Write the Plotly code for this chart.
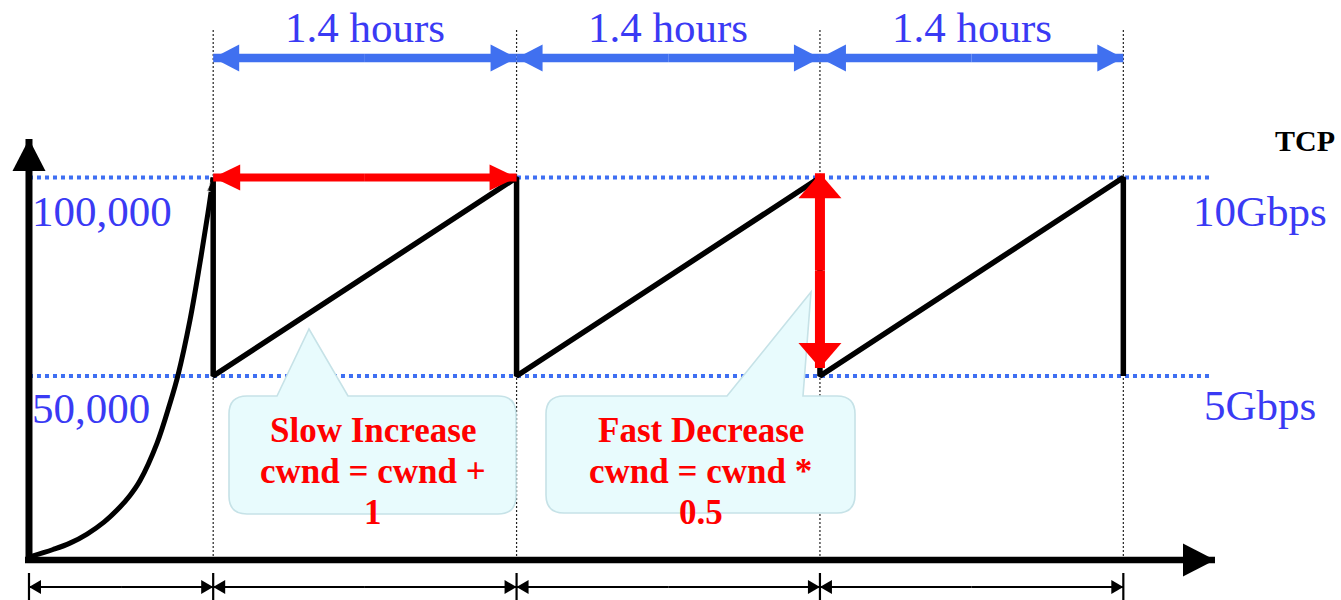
import plotly.graph_objects as go

# ---------------- data ----------------
cycle_bounds_t = [0.85, 2.25, 3.65, 5.05]          # hours: end of slow start, then every 1.4 h
cwnd_high = 100000
cwnd_low = 50000
slow_start_t = [0, 0.111, 0.189, 0.268, 0.346, 0.42, 0.466, 0.512, 0.591, 0.651, 0.688,
                0.743, 0.789, 0.826, 0.85]
slow_start_cwnd = [4400, 6300, 7900, 10200, 13200, 17000, 19900, 23600, 33100, 43200, 50300,
                   64100, 78500, 91100, 100000]
saw_t = [0.85, 0.85, 2.25, 2.25, 3.65, 3.65, 5.05, 5.05]
saw_cwnd = [100000, 50000, 100000, 50000, 100000, 50000, 100000, 50000]
cwnd_labels = ["100,000", "50,000"]
rate_labels = ["10Gbps", "5Gbps"]
period_labels = ["1.4 hours", "1.4 hours", "1.4 hours"]
callout_titles = ["Slow Increase", "Fast Decrease"]
callout_rules = ["cwnd = cwnd +", "cwnd = cwnd *"]
callout_values = ["1", "0.5"]
corner_label = "TCP"

# ---------------- layout constants ----------------
W, H = 1341, 600
X_RANGE = [-0.1338, 6.0545]
Y_RANGE = [-6423, 144710]
axis_base = 3650
axis_bottom = 2900
y_axis_top = 109700
x_axis_start = -0.0185
x_axis_end = 5.473
guide_top = 137150
period_row = 130100
dim_row = -3150
dim_tick_top = 380
dim_tick_bottom = -6500
dotted_end = 5.455
red_v_top = 101100
red_v_bottom = 52000

BLACK = "#000000"
RED = "#ff0000"
BLUE_LINE = "#3f6ff2"
BLUE_ARROW = "#4070f0"
BLUE_TEXT = "#3a3af4"
SERIF = "Liberation Serif"

fig = go.Figure()
shapes = []
annotations = []


def line_trace(xs, ys, color, width, dash=None, backoff=None, shape="linear"):
    ln = dict(color=color, width=width, shape=shape)
    if dash:
        ln["dash"] = dash
    if backoff is not None:
        ln["backoff"] = backoff
    fig.add_trace(go.Scatter(x=xs, y=ys, mode="lines", line=ln,
                             hoverinfo="skip", showlegend=False))


def head(t, c, direction, length, width, color):
    hw = width / 2
    if direction == "right":
        p = f"M0,0 L{-length},{hw} L{-length},{-hw} Z"
    elif direction == "left":
        p = f"M0,0 L{length},{hw} L{length},{-hw} Z"
    elif direction == "up":
        p = f"M0,0 L{-hw},{-length} L{hw},{-length} Z"
    else:
        p = f"M0,0 L{-hw},{length} L{hw},{length} Z"
    shapes.append(dict(type="path", xref="x", yref="y", xsizemode="pixel",
                       ysizemode="pixel", xanchor=t, yanchor=c, path=p,
                       fillcolor=color, line=dict(width=0), layer="above"))


def double_arrow_h(t0, t1, c, color, width, hl, hw):
    mid = (t0 + t1) / 2
    line_trace([mid, t0], [c, c], color, width, backoff=hl - 3)
    line_trace([mid, t1], [c, c], color, width, backoff=hl - 3)
    head(t0, c, "left", hl, hw, color)
    head(t1, c, "right", hl, hw, color)


def double_arrow_v(t, c0, c1, color, width, hl, hw):
    mid = (c0 + c1) / 2
    line_trace([t, t], [mid, c0], color, width, backoff=hl - 3)
    line_trace([t, t], [mid, c1], color, width, backoff=hl - 3)
    head(t, c0, "up", hl, hw, color)
    head(t, c1, "down", hl, hw, color)


def px_x(x):
    return x / W


def px_y(y):
    return 1 - y / H


# thin dotted guides
for b in cycle_bounds_t:
    line_trace([b, b], [axis_base, guide_top], "#222222", 1.2, dash="2px,2px")

# blue dotted reference levels
for lvl in [cwnd_high, cwnd_low]:
    line_trace([0, dotted_end], [lvl, lvl], BLUE_LINE, 4, dash="dot")

# slow start curve with small arrow head
fig.add_trace(go.Scatter(
    x=slow_start_t, y=slow_start_cwnd, mode="lines+markers",
    line=dict(color=BLACK, width=5, shape="spline", smoothing=1.0),
    marker=dict(symbol="arrow", angleref="previous", color=BLACK,
                size=[0] * (len(slow_start_t) - 1) + [15]),
    hoverinfo="skip", showlegend=False))

# saw tooth
line_trace(saw_t, saw_cwnd, BLACK, 5.5)

# axes
line_trace([0, 0], [axis_bottom, y_axis_top], BLACK, 7, backoff=29)
head(0, y_axis_top, "up", 32, 33, BLACK)
line_trace([x_axis_start, x_axis_end], [axis_base, axis_base], BLACK, 6.5, backoff=29)
head(x_axis_end, axis_base, "right", 32, 33, BLACK)

# period arrows (blue)
for i in range(3):
    double_arrow_h(cycle_bounds_t[i], cycle_bounds_t[i + 1], period_row,
                   BLUE_ARROW, 8.5, 26, 27)

# bottom dimension arrows
dim_pts = [0] + cycle_bounds_t
for t in dim_pts:
    line_trace([t, t], [dim_tick_top, dim_tick_bottom], BLACK, 2.2)
for i in range(len(dim_pts) - 1):
    double_arrow_h(dim_pts[i], dim_pts[i + 1], dim_row, BLACK, 2, 12, 14)


# callouts
def callout_path(w, h, r, b0, b1, tx, ty):
    return (f"M{r},0 L{b0},0 L{tx},{ty} L{b1},0 L{w - r},0 Q{w},0 {w},{-r} "
            f"L{w},{-(h - r)} Q{w},{-h} {w - r},{-h} L{r},{-h} Q0,{-h} 0,{-(h - r)} "
            f"L0,{-r} Q0,0 {r},0 Z")


callouts = [
    # anchor px (left, top), w, h, pointer base x0, x1, tip (x, y up)
    (229, 396, 287, 118, 48, 119, 80, 67),
    (546, 396, 309, 117, 181, 257, 265, 104),
]
for (lx, ty, w, h, b0, b1, tx, tipy) in callouts:
    shapes.append(dict(type="path", xref="paper", yref="paper",
                       xsizemode="pixel", ysizemode="pixel",
                       xanchor=px_x(lx), yanchor=px_y(ty),
                       path=callout_path(w, h, 18, b0, b1, tx, tipy),
                       fillcolor="#e8fbfd", line=dict(color="#c6e2e7", width=1.6),
                       layer="above"))

# red arrows (drawn after callouts so they sit on top)
double_arrow_h(cycle_bounds_t[0], cycle_bounds_t[1], cwnd_high, RED, 8, 27, 26)
double_arrow_v(cycle_bounds_t[2], red_v_top, red_v_bottom, RED, 10, 25, 43)

# ---------------- text ----------------
for i, lab in enumerate(period_labels):
    xc = (cycle_bounds_t[i] + cycle_bounds_t[i + 1]) / 2
    annotations.append(dict(x=xc, y=px_y(27), xref="x", yref="paper",
                            text=lab, showarrow=False, xanchor="center", yanchor="middle",
                            font=dict(family=SERIF, size=43, color=BLUE_TEXT)))

for lab, yc in zip(cwnd_labels, [211, 408]):
    annotations.append(dict(x=px_x(30), y=px_y(yc), xref="paper", yref="paper",
                            text=lab, showarrow=False, xanchor="left", yanchor="middle",
                            font=dict(family=SERIF, size=43, color=BLUE_TEXT)))

for lab, yc in zip(rate_labels, [211, 405]):
    annotations.append(dict(x=px_x(1260), y=px_y(yc), xref="paper", yref="paper",
                            text=lab, showarrow=False, xanchor="center", yanchor="middle",
                            font=dict(family=SERIF, size=43, color=BLUE_TEXT)))

annotations.append(dict(x=px_x(1337), y=px_y(140), xref="paper", yref="paper",
                        text=corner_label, showarrow=False, xanchor="right", yanchor="middle",
                        font=dict(family=SERIF, size=30, color=BLACK, weight="bold")))

for cx, title, rule, val in zip([372.5, 700.5], callout_titles, callout_rules, callout_values):
    for txt, yc in zip([title, rule, val], [430.5, 471.5, 512.5]):
        annotations.append(dict(x=px_x(cx), y=px_y(yc), xref="paper", yref="paper",
                                text=txt, showarrow=False, xanchor="center", yanchor="middle",
                                font=dict(family=SERIF, size=35, color=RED, weight="bold")))

fig.update_layout(
    width=W, height=H,
    margin=dict(l=0, r=0, t=0, b=0),
    paper_bgcolor="white", plot_bgcolor="white",
    xaxis=dict(range=X_RANGE, visible=False, fixedrange=True),
    yaxis=dict(range=Y_RANGE, visible=False, fixedrange=True),
    showlegend=False, hovermode=False,
    shapes=shapes, annotations=annotations,
)

fig.write_html("out.html",
               config={"displayModeBar": False},
               post_script="document.body.style.margin='0px';"
                           "document.body.style.overflow='hidden';")
